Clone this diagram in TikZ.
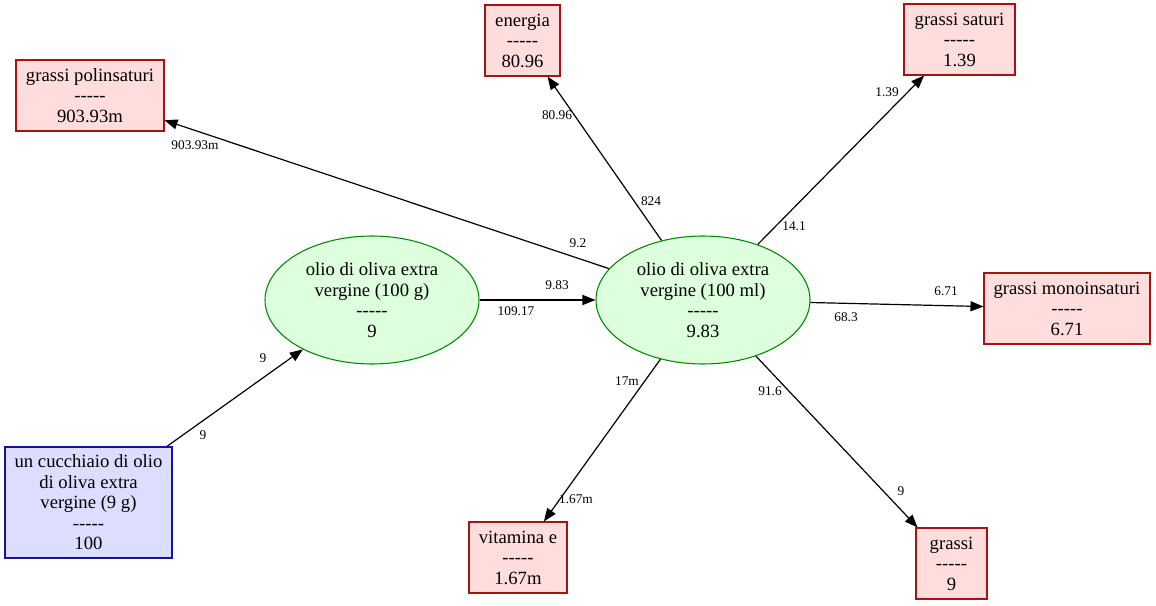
\documentclass[tikz,border=0pt]{standalone}
\usepackage{fontspec}
\setmainfont{Liberation Serif}
\usepackage{tikz}
\usetikzlibrary{shapes,arrows.meta,positioning}

\definecolor{resfill}{RGB}{255,221,221}
\definecolor{resline}{RGB}{165,20,20}
\definecolor{midfill}{RGB}{221,255,221}
\definecolor{midline}{RGB}{0,138,0}
\definecolor{srcfill}{RGB}{221,221,255}
\definecolor{srcline}{RGB}{20,20,150}

\newcommand{\sep}{-{}-{}-{}-{}-}

\begin{document}
\begin{tikzpicture}[x=0.75pt,y=-0.75pt]
			\tikzstyle{Box}		= [rectangle, draw, line width=0.8pt, inner sep=0pt, align=center, font=\fontsize{14}{15.4}\selectfont]
			\tikzstyle{Result}	= [Box, fill=resfill, draw=resline, minimum height=53.25pt]
			\tikzstyle{Source}	= [Box, fill=srcfill, draw=srcline]
			\tikzstyle{Food}	= [ellipse, draw=midline, fill=midfill, line width=0.8pt, inner sep=0pt, align=center, minimum width=160.5pt, minimum height=96pt, font=\fontsize{14}{15.4}\selectfont]
			\tikzstyle{Edge}	= [line width=0.9pt, -{Triangle[length=9.75pt,width=7.5pt]}]
			\tikzstyle{Lbl}		= [inner sep=0pt, font=\fontsize{10}{12}\selectfont]

			\useasboundingbox (0,0) rectangle (1156,606);

			\node (cucc) at (88.5,502.5) [Source][minimum width=125.25pt, minimum height=83.25pt] {un cucchiaio di olio\\di oliva extra\\vergine (9 g)\\\sep\\100};
			\node (og) at (372,300) [Food] {olio di oliva extra\\vergine (100 g)\\\sep\\9};
			\node (oml) at (703,300) [Food] {olio di oliva extra\\vergine (100 ml)\\\sep\\9.83};

			\node (poli) at (90,95.5) [Result][minimum width=111pt] {grassi polinsaturi\\\sep\\903.93m};
			\node (ener) at (522.5,40.5) [Result][minimum width=56.25pt] {energia\\\sep\\80.96};
			\node (satu) at (959.5,39.5) [Result][minimum width=83.25pt] {grassi saturi\\\sep\\1.39};
			\node (mono) at (1067,308.5) [Result][minimum width=124.5pt] {grassi monoinsaturi\\\sep\\6.71};
			\node (vite) at (518,557.5) [Result][minimum width=73.5pt] {vitamina e\\\sep\\1.67m};
			\node (gras) at (951.5,563.5) [Result][minimum width=53.25pt] {grassi\\\sep\\9};

			\draw [Edge] (cucc) to (og);
			\draw [Edge] (og) to (oml);
			\draw [Edge] (oml) to (poli);
			\draw [Edge] (oml) to (ener);
			\draw [Edge] (oml) to (satu);
			\draw [Edge] (oml) to (mono);
			\draw [Edge] (oml) to (vite);
			\draw [Edge] (oml) to (gras);

			% end labels
			\node (l0) at (203,435) [Lbl] {9};
			\node (l1) at (263,358) [Lbl] {9};
			\node (l2) at (557,285) [Lbl] {9.83};
			\node (l3) at (516,311) [Lbl] {109.17};
			\node (l4) at (195,145) [Lbl] {903.93m};
			\node (l5) at (578,243) [Lbl] {9.2};
			\node (l6) at (557,115) [Lbl] {80.96};
			\node (l7) at (651,201) [Lbl] {824};
			\node (l8) at (887,92) [Lbl] {1.39};
			\node (l9) at (794,226) [Lbl] {14.1};
			\node (l10) at (946,291) [Lbl] {6.71};
			\node (l11) at (846,317) [Lbl] {68.3};
			\node (l12) at (576,499) [Lbl] {1.67m};
			\node (l13) at (627,381) [Lbl] {17m};
			\node (l14) at (901,491) [Lbl] {9};
			\node (l15) at (770,391) [Lbl] {91.6};
		\end{tikzpicture}
\end{document}
